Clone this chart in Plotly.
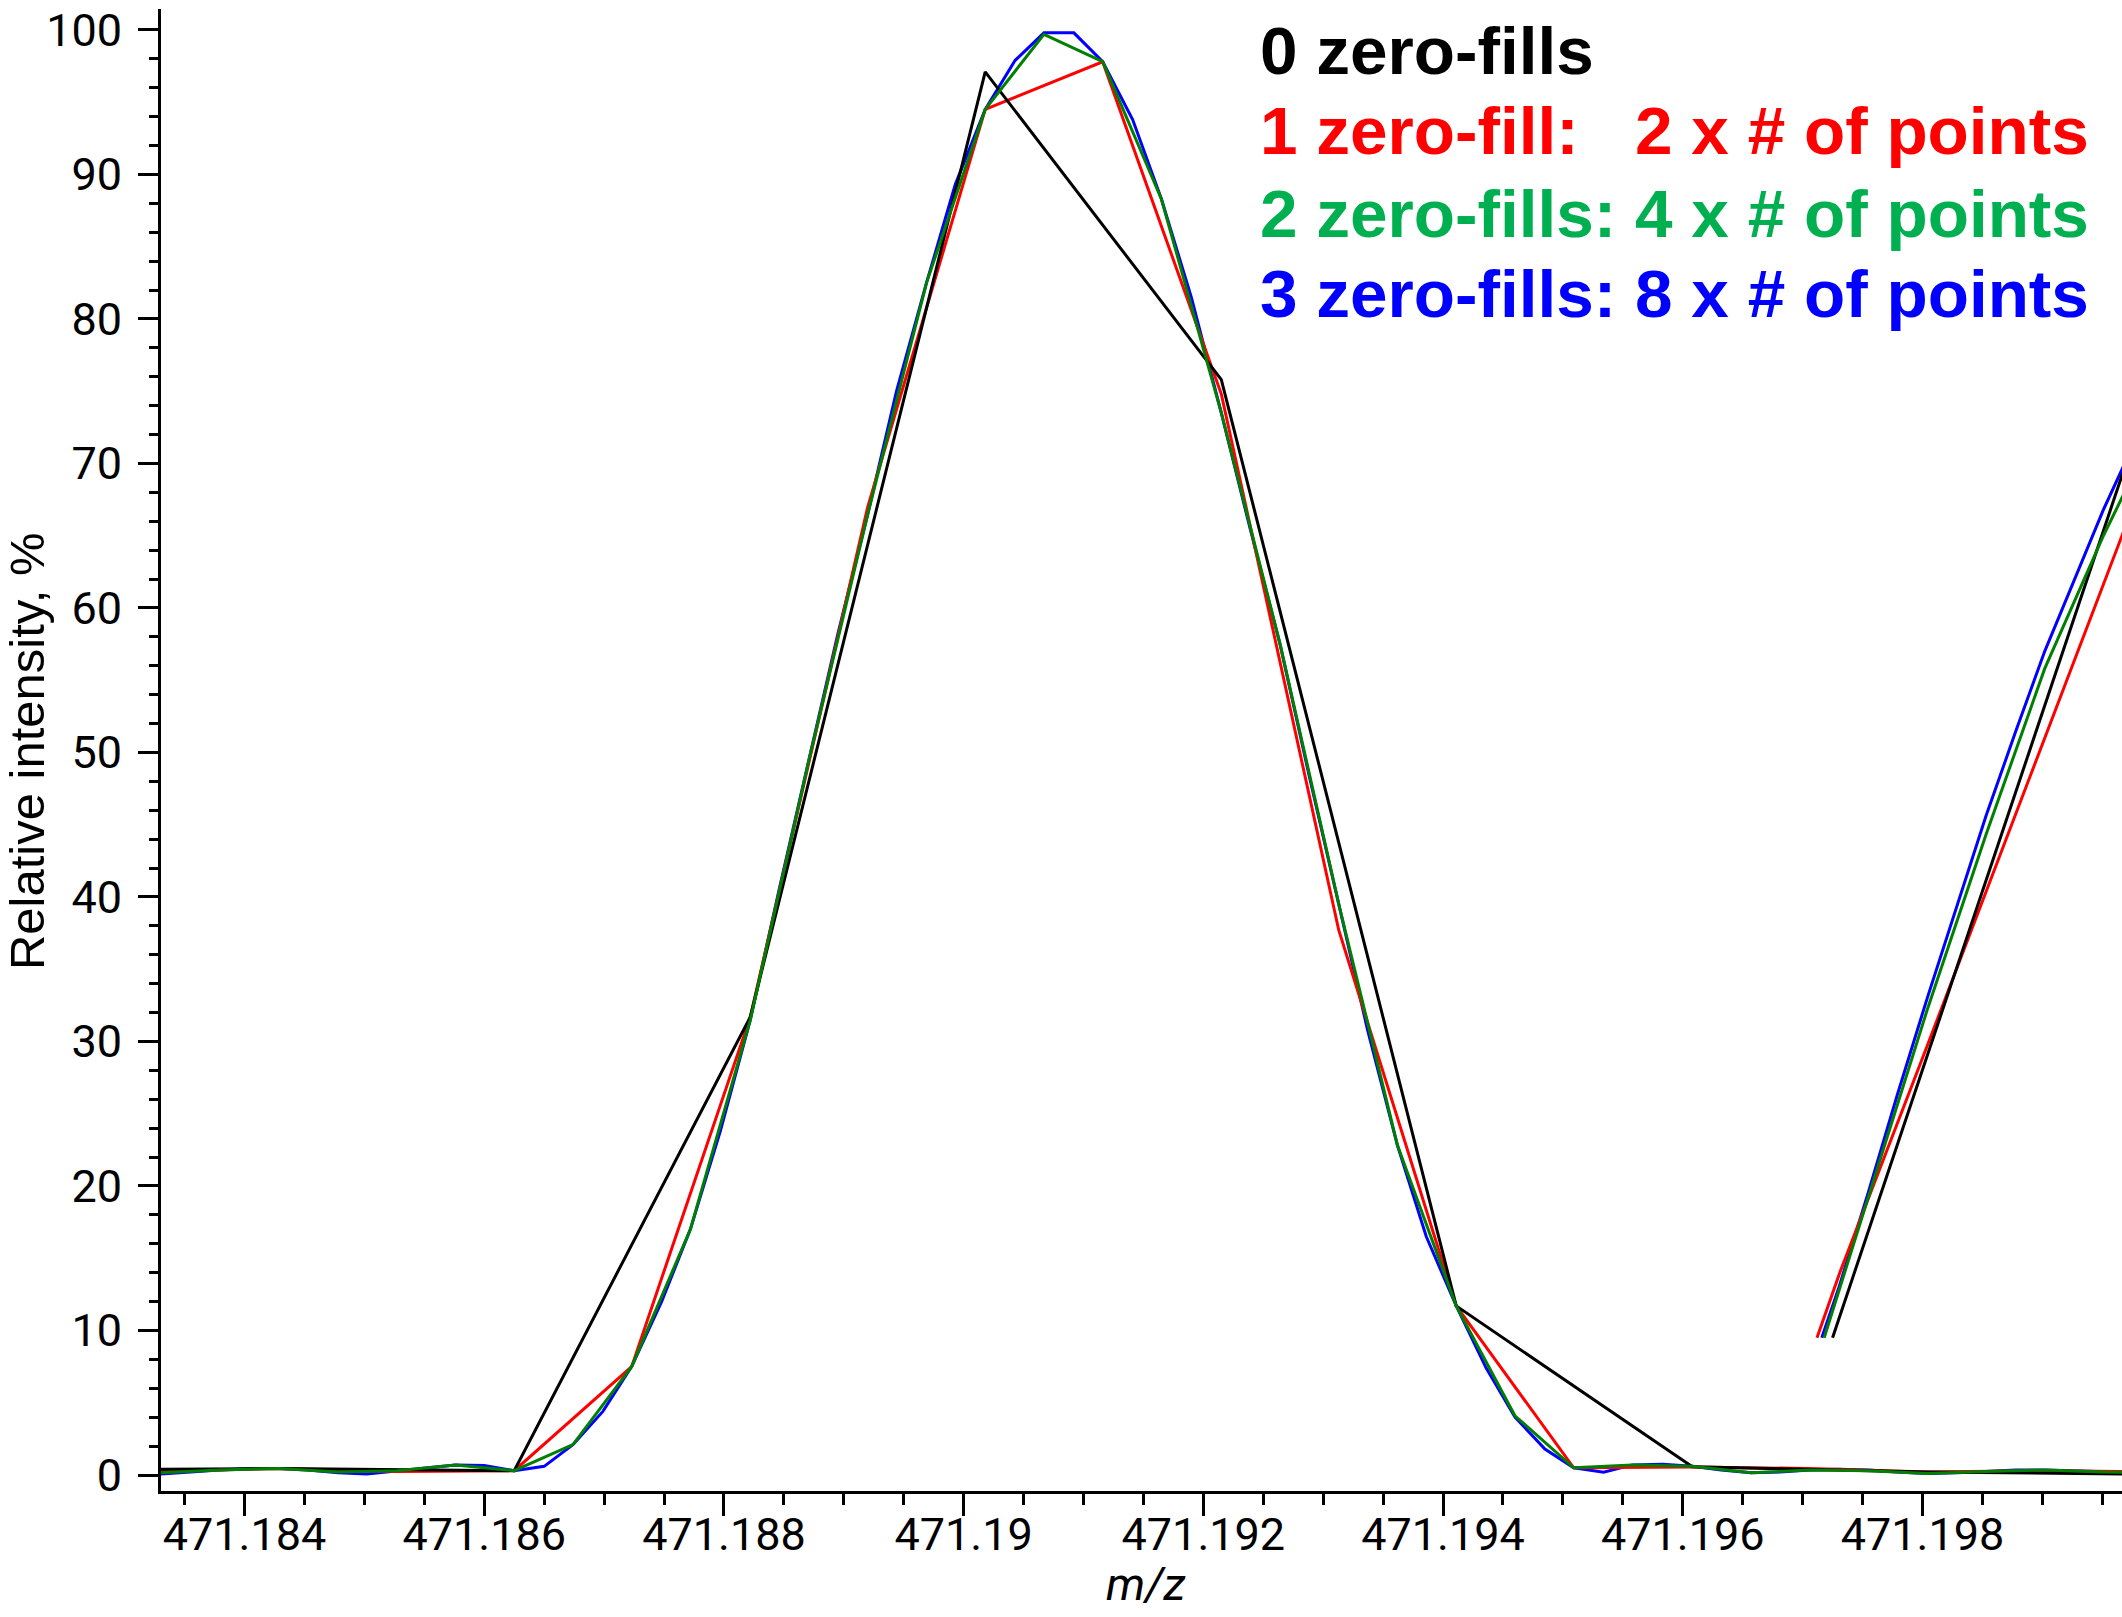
import plotly.graph_objects as go

# ---- FT-ICR profile of one peak, processed with 0-3 zero-fills ----
# m/z grid and relative intensity (%) for each processing level

# 0 zero-fills
mz_0zf = [471.18232, 471.18429, 471.18625, 471.18822, 471.19018, 471.19215,
          471.19411, 471.19608, 471.19804, 471.20001]
int_0zf = [0.35, 0.45, 0.3, 31.7, 97.1, 75.8, 11.7, 0.57, 0.2, 0.05]

# 1 zero-fill (2 x # of points)
mz_1zf = [471.18232, 471.18330, 471.18429, 471.18527, 471.18625, 471.18723,
          471.18822, 471.18920, 471.19018, 471.19116, 471.19215, 471.19313,
          471.19411, 471.19509, 471.19608, 471.19706, 471.19804, 471.19902,
          471.20001]
int_1zf = [0.3, 0.25, 0.45, 0.25, 0.3, 7.5, 31.7, 67.0, 94.5, 97.8, 74.8,
           37.7, 11.7, 0.5, 0.55, 0.45, 0.2, 0.3, 0.2]

# 2 zero-fills (4 x # of points)
mz_2zf = [471.18281, 471.18330, 471.18379, 471.18429, 471.18478, 471.18527,
          471.18576, 471.18625, 471.18674, 471.18723, 471.18772, 471.18822,
          471.18871, 471.18920, 471.18969, 471.19018, 471.19067, 471.19116,
          471.19165, 471.19215, 471.19264, 471.19313, 471.19362, 471.19411,
          471.19460, 471.19509, 471.19558, 471.19608, 471.19657, 471.19706,
          471.19755, 471.19804, 471.19853, 471.19902, 471.19951, 471.20001]
int_2zf = [0.1, 0.15, 0.35, 0.45, 0.2, 0.3, 0.7, 0.3, 2.1, 7.5, 17.0, 31.5,
           49.5, 66.5, 82.5, 94.5, 99.7, 97.8, 88.3, 73.5, 57.5, 39.5, 22.8,
           11.7, 4.1, 0.5, 0.7, 0.6, 0.15, 0.35, 0.3, 0.1, 0.25, 0.35, 0.2,
           0.15]

# 3 zero-fills (8 x # of points)
mz_3zf = [471.18306, 471.18330, 471.18355, 471.18379, 471.18404, 471.18429,
          471.18453, 471.18478, 471.18502, 471.18527, 471.18551, 471.18576,
          471.18600, 471.18625, 471.18650, 471.18674, 471.18699, 471.18723,
          471.18748, 471.18772, 471.18797, 471.18822, 471.18846, 471.18871,
          471.18895, 471.18920, 471.18944, 471.18969, 471.18993, 471.19018,
          471.19043, 471.19067, 471.19092, 471.19116, 471.19141, 471.19165,
          471.19190, 471.19215, 471.19239, 471.19264, 471.19288, 471.19313,
          471.19337, 471.19362, 471.19386, 471.19411, 471.19436, 471.19460,
          471.19485, 471.19509, 471.19534, 471.19558, 471.19583, 471.19608,
          471.19632, 471.19657, 471.19681, 471.19706, 471.19730, 471.19755,
          471.19779, 471.19804, 471.19829, 471.19853, 471.19878, 471.19902,
          471.19927, 471.19951, 471.19976, 471.20001]
int_3zf = [0.0, 0.07, 0.2, 0.35, 0.45, 0.45, 0.35, 0.15, 0.07, 0.3, 0.5, 0.7,
           0.65, 0.3, 0.6, 2.1, 4.4, 7.5, 12.0, 17.0, 23.8, 31.5, 40.5, 49.5,
           58.2, 66.5, 75.0, 82.5, 89.3, 94.5, 97.9, 99.8, 99.8, 97.8, 93.8,
           88.3, 81.5, 73.5, 65.5, 57.5, 48.5, 39.5, 30.8, 22.8, 16.5, 11.7,
           7.4, 4.0, 1.8, 0.5, 0.2, 0.7, 0.75, 0.6, 0.35, 0.15, 0.2, 0.35, 0.4,
           0.35, 0.2, 0.1, 0.15, 0.25, 0.35, 0.35, 0.3, 0.2, 0.15, 0.1]

# rising edge of the neighbouring peak (right border of the window)
mz_0zf_next = [471.19725, 471.20001]
int_0zf_next = [9.5, 77.7]
mz_1zf_next = [471.19712, 471.19731, 471.19804, 471.19902, 471.20001]
int_1zf_next = [9.5, 14.0, 29.7, 51.0, 72.5]
mz_2zf_next = [471.19718, 471.19755, 471.19804, 471.19853, 471.19902,
               471.19951, 471.20001]
int_2zf_next = [9.5, 19.2, 32.2, 44.3, 55.8, 65.0, 73.5]
mz_3zf_next = [471.19716, 471.19730, 471.19755, 471.19779, 471.19804,
               471.19829, 471.19853, 471.19878, 471.19902, 471.19927,
               471.19951, 471.19976]
int_3zf_next = [9.5, 12.9, 19.6, 26.3, 33.0, 39.5, 45.6, 51.5, 57.0, 62.0,
                66.8, 71.3]

# axis ticks
x_tick_vals = [471.184, 471.186, 471.188, 471.190, 471.192, 471.194, 471.196,
               471.198]
x_tick_text = ["471.184", "471.186", "471.188", "471.19", "471.192",
               "471.194", "471.196", "471.198"]
y_tick_vals = [0, 10, 20, 30, 40, 50, 60, 70, 80, 90, 100]

# legend lines
legend_lines = ["0 zero-fills",
                "1 zero-fill:\u00a0\u00a0 2 x # of points",
                "2 zero-fills: 4 x # of points",
                "3 zero-fills: 8 x # of points"]
legend_colors = ["#000000", "#FF0000", "#00B050", "#0000FF"]

LINE_W = 3
series = [
    (mz_3zf, int_3zf, mz_3zf_next, int_3zf_next, "#0000FF"),
    (mz_1zf, int_1zf, mz_1zf_next, int_1zf_next, "#FF0000"),
    (mz_0zf, int_0zf, mz_0zf_next, int_0zf_next, "#000000"),
    (mz_2zf, int_2zf, mz_2zf_next, int_2zf_next, "#008000"),
]

fig = go.Figure()
for mz, inten, mz_n, int_n, col in series:
    fig.add_trace(go.Scatter(x=mz, y=inten, mode="lines",
                             line=dict(color=col, width=LINE_W),
                             hoverinfo="skip"))
    fig.add_trace(go.Scatter(x=mz_n, y=int_n, mode="lines",
                             line=dict(color=col, width=LINE_W),
                             hoverinfo="skip"))

TICK_FONT = dict(family="Roboto, Liberation Sans, sans-serif", size=45,
                 color="black")

fig.update_layout(
    width=2122, height=1617,
    margin=dict(l=161, r=0, t=9, b=126),
    plot_bgcolor="white", paper_bgcolor="white",
    showlegend=False,
    xaxis=dict(
        range=[471.183303, 471.199665],
        showline=True, linecolor="black", linewidth=3,
        ticks="outside", ticklen=22, tickwidth=3, tickcolor="black",
        tickmode="array", tickvals=x_tick_vals, ticktext=x_tick_text,
        tickfont=TICK_FONT, ticklabelstandoff=-20,
        showgrid=False, zeroline=False,
        minor=dict(tickmode="linear", tick0=471.184, dtick=0.0005,
                   ticks="outside", ticklen=11, tickwidth=3,
                   tickcolor="black", showgrid=False),
    ),
    yaxis=dict(
        range=[-1.107, 101.45],
        showline=True, linecolor="black", linewidth=3,
        ticks="outside", ticklen=20, tickwidth=3, tickcolor="black",
        tickmode="array", tickvals=y_tick_vals,
        tickfont=TICK_FONT, ticklabelstandoff=7,
        showgrid=False, zeroline=False,
        minor=dict(tickmode="linear", tick0=0, dtick=2,
                   ticks="outside", ticklen=9, tickwidth=3,
                   tickcolor="black", showgrid=False),
    ),
)

# axis titles
fig.add_annotation(text="Relative intensity, %", textangle=-90,
                   xref="paper", yref="paper", x=-0.0683, y=0.4993,
                   xanchor="center", yanchor="middle", showarrow=False,
                   font=dict(family="Liberation Sans, Arial, sans-serif",
                             size=49, color="black"))
fig.add_annotation(text="<i>m/z</i>",
                   xref="paper", yref="paper", x=0.5023, y=-0.0625,
                   xanchor="center", yanchor="middle", showarrow=False,
                   font=dict(family="Roboto, Liberation Sans, sans-serif",
                             size=46, color="black"))

# colour-coded legend text
legend_y = [0.9723, 0.9177, 0.8623, 0.8077]
for txt, col, yy in zip(legend_lines, legend_colors, legend_y):
    fig.add_annotation(text="<b>" + txt + "</b>",
                       xref="paper", yref="paper", x=0.5594, y=yy,
                       xanchor="left", yanchor="middle", showarrow=False,
                       font=dict(family="Liberation Sans, Arial, sans-serif",
                                 size=67.5, color=col))

fig.write_html("out.html")
